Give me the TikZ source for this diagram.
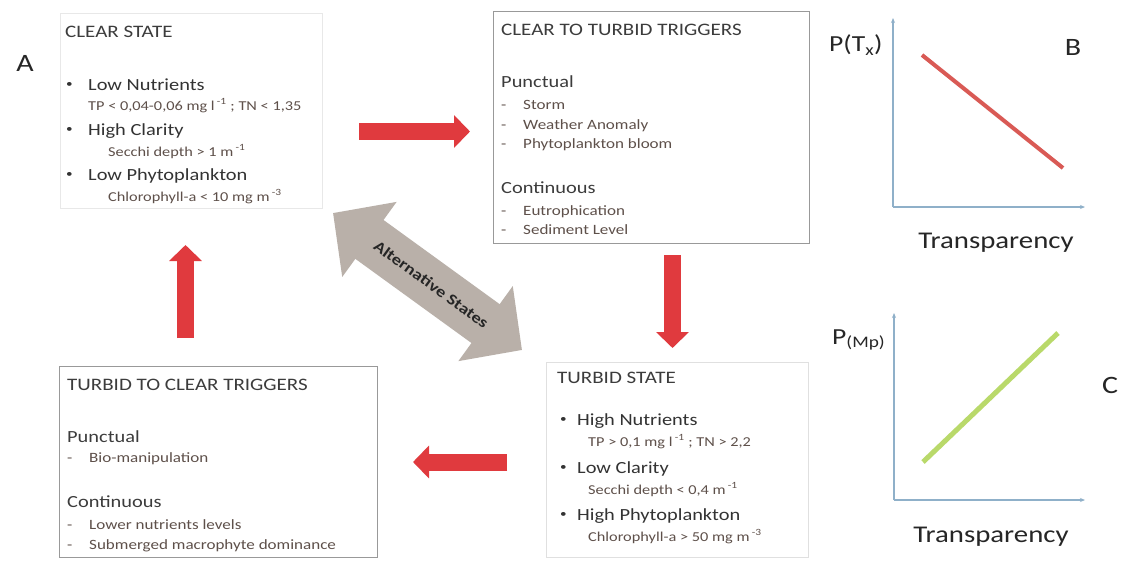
\documentclass[tikz,border=0pt]{standalone}
\usepackage{fontspec}
\setmainfont{Carlito}[FakeStretch=1.2]
\usetikzlibrary{arrows.meta,calc}
\definecolor{redarr}{HTML}{E03A3E}
\definecolor{grayarr}{HTML}{B9B0A9}
\definecolor{axisc}{HTML}{8FB0C9}
\definecolor{redline}{HTML}{D95A55}
\definecolor{greenline}{HTML}{B9D96A}
\definecolor{headc}{HTML}{3C3C3C}
\definecolor{itemc}{HTML}{333333}
\definecolor{subc}{HTML}{5E504A}
\newcommand{\smallbul}{\raisebox{0.15em}{\fontsize{11}{12}\selectfont\textbullet}}
\tikzset{
  box/.style={draw, line width=1.1pt, inner sep=0pt, anchor=north west},
  headtxt/.style={anchor=base west, inner sep=0pt, text=headc, font=\fontsize{17.5}{19}\selectfont},
  itemtxt/.style={anchor=base west, inner sep=0pt, text=itemc, font=\fontsize{17}{19}\selectfont},
  subtxt/.style={anchor=base west, inner sep=0pt, text=subc, font=\fontsize{13.6}{15}\selectfont},
  trigtxt/.style={anchor=base west, inner sep=0pt, text=subc, font=\fontsize{14.2}{16}\selectfont},
  bigtxt/.style={anchor=center, inner sep=0pt, text=black!85, font=\fontsize{25}{28}\selectfont},
  redblock/.style={draw=redarr, line width=17pt, -{Triangle[width=32pt,length=16pt]}},
  axisline/.style={draw=axisc, line width=1.1pt, -{Stealth[length=5pt,width=4pt]}},
}
\begin{document}
\begin{tikzpicture}[x=1pt,y=-1pt]
\useasboundingbox (0,0) rectangle (1130,566);
\fill[white] (0,0) rectangle (1130,566);

% label A
\node[bigtxt] (labA) at (25,63) {A};

% ---------- CLEAR STATE ----------
\node[box, draw=black!9, minimum width=262pt, minimum height=195pt] (clear) at (60,13) {};
\node[headtxt] (clearH) at (65,37) {CLEAR STATE};
\node[itemtxt] (cb1) at (66,90) {\smallbul};
\node[itemtxt] (c1) at (88,90) {Low Nutrients};
\node[subtxt] (c1s) at (88,110) {TP < 0,04-0,06 mg l\,\textsuperscript{-1} ; TN < 1,35};
\node[itemtxt] (cb2) at (66,135) {\smallbul};
\node[itemtxt] (c2) at (88,135) {High Clarity};
\node[subtxt] (c2s) at (108,156) {Secchi depth > 1 m\,\textsuperscript{-1}};
\node[itemtxt] (cb3) at (66,180) {\smallbul};
\node[itemtxt] (c3) at (88,180) {Low Phytoplankton};
\node[subtxt] (c3s) at (108,201) {Chlorophyll-a < 10 mg m\,\textsuperscript{-3}};

% ---------- CLEAR TO TURBID ----------
\node[box, draw=black!40, minimum width=316pt, minimum height=232pt] (ct) at (493,11) {};
\node[headtxt] (ctH) at (501,35) {CLEAR TO TURBID TRIGGERS};
\node[itemtxt, text=headc] (ctP) at (501,87) {Punctual};
\node[trigtxt] (ctd1) at (501,109) {-};
\node[trigtxt] (ct1) at (523,109) {Storm};
\node[trigtxt] (ctd2) at (501,129) {-};
\node[trigtxt] (ct2) at (523,129) {Weather Anomaly};
\node[trigtxt] (ctd3) at (501,148) {-};
\node[trigtxt] (ct3) at (523,148) {Phytoplankton bloom};
\node[itemtxt, text=headc] (ctC) at (501,193) {Continuous};
\node[trigtxt] (ctd4) at (501,215) {-};
\node[trigtxt] (ct4) at (523,215) {Eutrophication};
\node[trigtxt] (ctd5) at (501,234) {-};
\node[trigtxt] (ct5) at (523,234) {Sediment Level};

% ---------- TURBID TO CLEAR ----------
\node[box, draw=black!40, minimum width=318pt, minimum height=191pt] (tc) at (59,366) {};
\node[headtxt] (tcH) at (67,390) {TURBID TO CLEAR TRIGGERS};
\node[itemtxt, text=headc] (tcP) at (67,442) {Punctual};
\node[trigtxt] (tcd1) at (67,462) {-};
\node[trigtxt] (tc1) at (89,462) {Bio-manipulation};
\node[itemtxt, text=headc] (tcC) at (67,507) {Continuous};
\node[trigtxt] (tcd2) at (67,529) {-};
\node[trigtxt] (tc2) at (89,529) {Lower nutrients levels};
\node[trigtxt] (tcd3) at (67,549) {-};
\node[trigtxt] (tc3) at (89,549) {Submerged macrophyte dominance};

% ---------- TURBID STATE ----------
\node[box, draw=black!12, minimum width=262pt, minimum height=195pt] (turbid) at (546,362) {};
\node[headtxt] (tH) at (557,383) {TURBID STATE};
\node[itemtxt] (tb1) at (560,425) {\smallbul};
\node[itemtxt] (t1) at (577,425) {High Nutrients};
\node[subtxt] (t1s) at (588,446) {TP > 0,1 mg l\,\textsuperscript{-1} ; TN > 2,2};
\node[itemtxt] (tb2) at (560,473) {\smallbul};
\node[itemtxt] (t2) at (577,473) {Low Clarity};
\node[subtxt] (t2s) at (588,494) {Secchi depth < 0,4 m\,\textsuperscript{-1}};
\node[itemtxt] (tb3) at (560,520) {\smallbul};
\node[itemtxt] (t3) at (577,520) {High Phytoplankton};
\node[subtxt] (t3s) at (588,541) {Chlorophyll-a > 50 mg m\,\textsuperscript{-3}};

% ---------- red arrows ----------
\coordinate (r1a) at (359,131.5);
\coordinate (r1b) at (470,131.5);
\draw[redblock] (r1a) -- (r1b);
\coordinate (r2a) at (672.5,255);
\coordinate (r2b) at (672.5,348);
\draw[redblock] (r2a) -- (r2b);
\coordinate (r3a) at (507,462);
\coordinate (r3b) at (413,462);
\draw[redblock] (r3a) -- (r3b);
\coordinate (r4a) at (185.5,338);
\coordinate (r4b) at (185.5,245);
\draw[redblock] (r4a) -- (r4b);

% ---------- gray double arrow ----------
\coordinate (g1) at (333,213);
\coordinate (g2) at (522,350);
\draw[draw=grayarr, line width=48pt, {Triangle[width=90pt,length=45pt]}-{Triangle[width=90pt,length=45pt]}] (g1) -- (g2);
\node[rotate=-35.9, inner sep=0pt, text=black!85, font=\fontsize{15.5}{17}\selectfont\bfseries] (alt) at ($(g1)!0.52!(g2)$) {Alternative States};

% ---------- chart B ----------
\coordinate (bo) at (893,207);
\coordinate (by) at (893,18);
\coordinate (bx) at (1085,207);
\draw[axisline] (bo) -- (by);
\draw[axisline] (bo) -- (bx);
\coordinate (bl1) at (922,55);
\coordinate (bl2) at (1063,168);
\draw[redline, line width=4pt] (bl1) -- (bl2);
\node[anchor=west, inner sep=0pt, text=black!85, font=\fontsize{23}{26}\selectfont] (bylab) at (829,45) {P(T\textsubscript{x})};
\node[bigtxt] (labB) at (1073,47) {B};
\node[bigtxt, font=\fontsize{24}{27}\selectfont] (bxlab) at (996,243) {Transparency};

% ---------- chart C ----------
\coordinate (co) at (894,500);
\coordinate (cy) at (894,313);
\coordinate (cx) at (1085,500);
\draw[axisline] (co) -- (cy);
\draw[axisline] (co) -- (cx);
\coordinate (cl1) at (923,462);
\coordinate (cl2) at (1058,333);
\draw[greenline, line width=5pt] (cl1) -- (cl2);
\node[anchor=west, inner sep=0pt, text=black!85, font=\fontsize{23}{26}\selectfont] (cylab) at (832,340) {P\textsubscript{(Mp)}};
\node[bigtxt] (labC) at (1110,385) {C};
\node[bigtxt, font=\fontsize{24}{27}\selectfont] (cxlab) at (991,537) {Transparency};
\end{tikzpicture}
\end{document}
